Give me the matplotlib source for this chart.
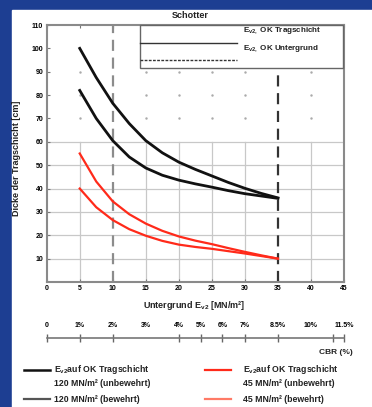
import numpy as np
import matplotlib
matplotlib.use("Agg")
import matplotlib.pyplot as plt
from matplotlib.patches import Rectangle
from matplotlib.lines import Line2D

plt.rcParams['font.family'] = ['Liberation Sans', 'DejaVu Sans']
plt.rcParams['font.weight'] = 'bold'
plt.rcParams['mathtext.fontset'] = 'custom'
plt.rcParams['mathtext.rm'] = 'Liberation Sans:bold'
plt.rcParams['mathtext.bf'] = 'Liberation Sans:bold'
plt.rcParams['mathtext.default'] = 'bf'

# Daten
ev2 = [5, 7.5, 10, 12.5, 15, 17.5, 20, 22.5, 25, 27.5, 30, 32.5, 35]
d_120_unbew = [100, 87.5, 76.5, 67.8, 60.5, 55.3, 51.3, 48.2, 45.4, 42.6, 40.1, 37.9, 36]
d_120_bew = [82, 70, 60.5, 53.5, 48.8, 45.7, 43.6, 42, 40.6, 39.1, 37.8, 36.8, 35.8]
d_45_unbew = [55, 43, 34.5, 29, 25, 21.9, 19.5, 17.7, 16.2, 14.5, 12.9, 11.4, 10]
d_45_bew = [40, 32, 26.5, 22.6, 19.8, 17.6, 16, 15, 14.2, 13.2, 12.2, 11.1, 10]

cbr_pos = [0, 5, 10, 15, 20, 23.3, 26.6, 30, 35, 40, 43.3, 45]
cbr_lab = ['0', '1%', '2%', '3%', '4%', '5%', '6%', '7%', '8.5%', '10%', '', '11.5%']
cbr_no_tick = [15, 40]

blau = '#1d3e92'
rot = '#ff2a1a'
W, H = 372, 407


def fx(x):
    return x / W


def fy(y):
    return 1 - y / H


fig = plt.figure(figsize=(3.72, 4.07), dpi=100)
fig.patch.set_facecolor(blau)
fig.patches.append(Rectangle((fx(12), 0), 1, fy(10), transform=fig.transFigure,
                             color='white', zorder=-5))

ax = fig.add_axes([fx(46.7), fy(282), 297.3 / W, 257 / H])
ax.set_xlim(0, 45)
ax.set_ylim(0, 110)

# Raster
for yy in range(10, 61, 10):
    ax.axhline(yy, color='#c8c8c8', lw=0.9, zorder=1)
for xx in [5, 15, 20, 25, 30, 40]:
    ax.plot([xx, xx], [0, 60], color='#c8c8c8', lw=0.9, zorder=1)
    ax.plot([xx] * 3, [70, 80, 90], ls='none', marker='.', ms=1.5, color='#aaaaaa', zorder=1)
ax.axvline(10, color='#8c8c8c', lw=1.6, ls=(0, (5, 3)), zorder=2)
ax.axvline(35, color='#333333', lw=1.6, ls=(0, (5, 3)), zorder=2)

ax.plot(ev2, d_120_unbew, color='#111111', lw=2, zorder=3, solid_joinstyle='round')
ax.plot(ev2, d_120_bew, color='#111111', lw=2, zorder=3, solid_joinstyle='round')
ax.plot(ev2, d_45_unbew, color=rot, lw=1.6, zorder=3, solid_joinstyle='round')
ax.plot(ev2, d_45_bew, color=rot, lw=1.6, zorder=3, solid_joinstyle='round')

ax.set_xticks(range(0, 46, 5))
ax.set_yticks(range(10, 111, 10))
ax.tick_params(labelsize=5, direction='in', length=2.5, width=0.8, color='#777777',
               pad=2.5, top=True)
for s in ax.spines.values():
    s.set_color('#8a8a8a')
    s.set_linewidth(1.5)

# Legende oben rechts im Diagramm
fig.add_artist(Rectangle((fx(140), fy(68)), fx(343) - fx(140), fy(25) - fy(68),
                         transform=fig.transFigure, fc='white', ec='#666666', lw=1, zorder=4))
fig.add_artist(Line2D([fx(140), fx(237)], [fy(43), fy(43)], color='#333333', lw=1, zorder=5))
fig.add_artist(Line2D([fx(140), fx(237)], [fy(60), fy(60)], color='#333333', lw=1,
                      ls=(0, (2, 1)), zorder=5))
fig.text(fx(243), fy(31), r'E$_{v2,}$ OK Tragschicht', fontsize=5.8, va='center',
         color='#222222', zorder=5)
fig.text(fx(243), fy(49), r'E$_{v2,}$ OK Untergrund', fontsize=5.8, va='center',
         color='#222222', zorder=5)

fig.text(fx(190), fy(15), 'Schotter', fontsize=6.5, ha='center', va='center', color='#222222')
fig.text(fx(194), fy(305), r'Untergrund E$_{v2}$ [MN/m²]', fontsize=6.5, ha='center',
         va='center', color='#222222')
fig.text(fx(17), fy(158), 'Dicke der Tragschicht [cm]', fontsize=6.5, ha='center',
         va='center', rotation=90, color='#222222')

# CBR-Achse
ax2 = fig.add_axes([fx(46.7), fy(338), 297.3 / W, 0.0005])
ax2.set_xlim(0, 45)
ax2.set_yticks([])
ax2.patch.set_alpha(0)
for k in ['left', 'right', 'top']:
    ax2.spines[k].set_visible(False)
ax2.spines['bottom'].set_color('#777777')
ax2.spines['bottom'].set_linewidth(1.2)
ax2.set_xticks(cbr_pos)
ax2.set_xticklabels(cbr_lab)
ax2.tick_params(axis='x', bottom=False, top=True, labelbottom=False, labeltop=True,
                direction='inout', length=6, width=1, color='#666666', labelsize=5, pad=3)
for pos, t in zip(cbr_pos, ax2.xaxis.get_major_ticks()):
    if pos in cbr_no_tick:
        t.tick2line.set_visible(False)
fig.text(fx(336), fy(352), 'CBR (%)', fontsize=6, ha='center', va='center', color='#222222')

# Legende unten
fig.add_artist(Line2D([fx(24), fx(50)], [fy(370), fy(370)], color='#111111', lw=1.8))
fig.add_artist(Line2D([fx(24), fx(50)], [fy(399), fy(399)], color='#555555', lw=1.6))
fig.add_artist(Line2D([fx(205), fx(231)], [fy(370), fy(370)], color=rot, lw=1.6))
fig.add_artist(Line2D([fx(205), fx(231)], [fy(399), fy(399)], color='#ff7a66', lw=1.6))
fig.text(fx(54), fy(370), r'E$_{v2}$auf OK Tragschicht', fontsize=6.3, va='center', color='#222222')
fig.text(fx(54), fy(383), '120 MN/m² (unbewehrt)', fontsize=6.3, va='center', color='#222222')
fig.text(fx(54), fy(399), '120 MN/m² (bewehrt)', fontsize=6.3, va='center', color='#222222')
fig.text(fx(243), fy(370), r'E$_{v2}$auf OK Tragschicht', fontsize=6.3, va='center', color='#222222')
fig.text(fx(243), fy(383), '45 MN/m² (unbewehrt)', fontsize=6.3, va='center', color='#222222')
fig.text(fx(243), fy(399), '45 MN/m² (bewehrt)', fontsize=6.3, va='center', color='#222222')

fig.savefig('out.png', dpi=100, facecolor=fig.get_facecolor())
